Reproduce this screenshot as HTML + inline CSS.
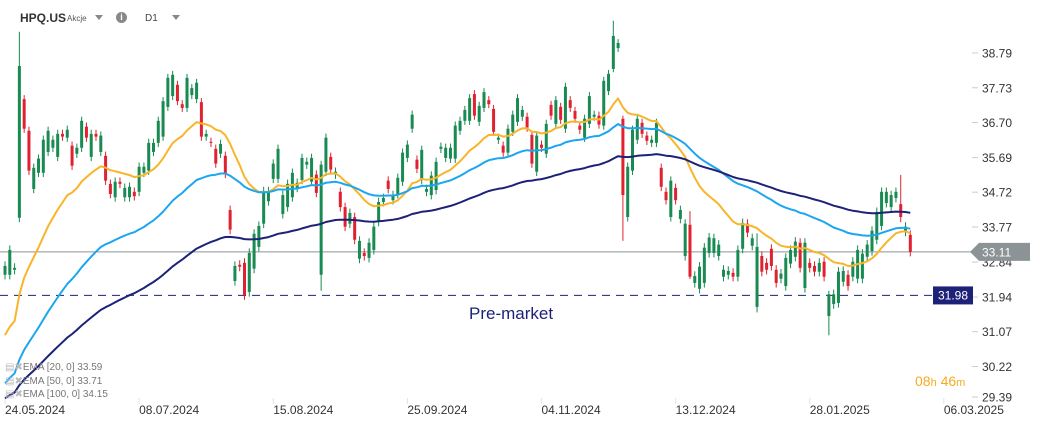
<!DOCTYPE html>
<html><head><meta charset="utf-8">
<style>
html,body{margin:0;padding:0;background:#fff;width:1041px;height:427px;overflow:hidden;font-family:"Liberation Sans",sans-serif;}
#wrap{position:relative;width:1041px;height:427px;}
svg{position:absolute;left:0;top:0;}
</style></head>
<body>
<div id="wrap">
<svg id="chart" width="1041" height="427"></svg>
</div>
<script>
const opens=[32.51,32.51,32.64,34.02,37.39,36.46,34.81,35.26,35.26,35.85,35.97,35.71,36.37,36.26,36.03,35.80,35.97,36.58,35.71,36.37,35.85,35.74,34.95,34.58,35.01,34.58,34.58,34.73,34.73,35.26,35.32,35.85,36.11,36.29,37.16,37.48,37.82,37.24,37.13,37.51,37.39,37.30,36.29,36.14,35.94,35.80,35.74,34.23,32.35,32.77,32.82,32.07,32.67,33.24,33.86,34.47,35.09,35.09,34.12,34.31,34.58,34.84,35.06,35.49,35.01,35.21,32.51,35.29,35.71,35.21,34.73,34.31,33.86,34.04,32.93,33.08,32.95,33.16,33.91,34.45,35.04,34.50,34.67,35.01,35.68,36.52,35.63,35.06,34.73,34.64,34.78,35.94,35.68,35.66,35.66,36.46,36.75,36.75,37.54,36.72,37.13,37.36,37.10,36.20,36.03,35.83,36.43,36.72,36.87,36.87,36.34,35.29,36.06,35.80,37.22,36.66,37.16,36.52,37.36,37.04,36.61,36.26,36.66,36.87,36.90,36.61,37.63,38.30,38.94,36.81,34.04,35.32,36.20,36.69,36.32,36.11,36.11,35.40,34.73,34.04,34.84,33.99,33.00,33.83,32.30,32.15,32.30,33.08,33.08,33.00,32.46,32.51,32.56,32.46,33.19,33.86,33.27,31.69,33.00,32.82,33.19,32.64,32.41,32.22,32.80,32.98,33.35,32.17,32.82,32.74,32.59,32.85,31.46,31.76,31.79,32.33,32.51,32.46,32.41,32.41,32.98,33.13,33.43,33.80,34.42,34.31,34.56,34.39,33.64,33.56];
const closes=[32.74,33.16,32.69,38.39,36.52,35.32,35.40,35.66,36.20,36.46,36.20,36.37,36.29,36.49,35.46,35.97,36.75,36.26,36.37,36.29,36.32,35.04,34.67,35.01,34.95,34.84,34.87,34.61,35.43,35.43,36.11,36.11,36.75,37.33,38.03,38.12,37.33,37.13,38.03,37.72,37.88,36.29,36.37,36.11,35.52,36.08,35.23,33.70,32.74,32.72,31.99,33.08,33.59,33.80,34.75,34.75,35.52,35.94,34.64,34.95,35.26,34.98,35.68,35.57,35.68,34.70,35.49,36.26,35.35,35.29,34.31,33.78,34.15,33.43,33.40,33.00,33.35,33.78,34.45,34.56,34.81,34.64,35.12,35.83,36.06,36.93,35.37,35.91,34.81,35.18,35.57,36.00,35.97,35.97,36.61,36.75,37.07,37.42,36.90,37.19,37.60,37.24,36.43,36.26,35.83,36.52,36.93,37.42,37.07,36.55,35.52,36.32,35.97,36.66,36.90,37.36,36.78,37.76,37.13,36.81,36.49,36.81,37.48,36.93,36.64,37.94,38.15,39.32,39.10,34.64,35.43,36.49,36.81,36.37,36.17,36.20,36.69,34.87,34.50,35.04,34.50,34.23,33.86,32.46,32.48,32.72,33.22,33.49,33.47,33.30,32.64,32.61,32.46,33.16,33.88,33.62,33.47,33.24,32.59,32.64,32.74,32.30,32.54,32.95,33.16,33.38,32.69,33.35,32.69,32.59,32.82,32.46,32.01,32.01,32.59,32.61,32.22,32.85,33.16,33.06,33.30,33.67,34.18,34.73,34.73,34.64,34.73,34.04,33.78,33.11];
const wickIdx=[3,66,127,129,143,157,172,187];
const wickHigh=[39.45,35.60,39.80,36.90,34.20,33.60,32.10,35.20];
const wickLow=[33.90,32.10,38.20,33.40,32.40,31.55,30.98,33.90];
const emaPeriods=[20,50,100];
const emaSeeds=[30.8,29.7,29.4];
const emaColors=['#f9b52a','#1ca6ef','#1d2278'];
const yTicks=[38.79,37.73,36.70,35.69,34.72,33.77,32.84,31.94,31.07,30.22,29.39];
const xLabels=['24.05.2024','08.07.2024','15.08.2024','25.09.2024','04.11.2024','13.12.2024','28.01.2025','06.03.2025'];
const xLabelIdx=[0,28,56,84,112,140,168,196];
const lastPrice=33.11, preMarket=31.98;

const NS='http://www.w3.org/2000/svg';
const svg=document.getElementById('chart');
function mk(tag,attrs,parent){const e=document.createElementNS(NS,tag);for(const k in attrs)e.setAttribute(k,attrs[k]);(parent||svg).appendChild(e);return e;}
const X=i=>5+i*4.79;
const Y=p=>297-(Math.log(p)-Math.log(31.94))*1256;

yTicks.forEach(t=>{
  const y=Math.min(Y(t),397);
  const l=mk('line',{x1:972,x2:978,y1:y,y2:y,stroke:'#ccc'});
  
  
  const tx=mk('text',{x:982,y:y+4.5,'font-size':12,fill:'#333'});
  tx.textContent=t.toFixed(2);
  
  
});
xLabels.forEach((s,k)=>{
  const x=X(xLabelIdx[k]);
  const l=mk('line',{x1:x,x2:x,y1:398,y2:404,stroke:'#e3e3e3'});
  
  
  const tx=mk('text',{x:x,y:414,'font-size':12,fill:'#333'});
  tx.textContent=s;
  
  
});
const pm=mk('line',{x1:0,x2:932,y1:Y(preMarket),y2:Y(preMarket),stroke:'#1d2278','stroke-width':1,'stroke-dasharray':'8,6'});


const lp=mk('line',{x1:0,x2:972,y1:Y(lastPrice),y2:Y(lastPrice),stroke:'#8c9396','stroke-width':1});



for(let i=0;i<closes.length;i++){
  const o=opens[i],c=closes[i];
  const up=c>=o;
  const col=up?'#188a52':'#e0212f';
  let hi=Math.max(o,c)+0.12,lo=Math.min(o,c)-0.12;
  const w=wickIdx.indexOf(i);
  if(w>=0){hi=wickHigh[w];lo=wickLow[w];}
  const x=X(i);
  const wl=mk('line',{x1:x,x2:x,y1:Y(hi),y2:Y(lo),stroke:col,'stroke-width':1});
  
  
  const yt=Y(Math.max(o,c)),yb=Y(Math.min(o,c));
  const b=mk('rect',{x:x-1.5,y:yt,width:3,height:Math.max(1,yb-yt),fill:col});
  
  
}
emaPeriods.forEach((n,k)=>{
  const a=2/(n+1);let e=emaSeeds[k];const pts=[];
  for(let i=0;i<closes.length;i++){e=e+a*(closes[i]-e);pts.push(X(i).toFixed(1)+','+Y(e).toFixed(1));}
  const pl=mk('polyline',{points:pts.join(' '),fill:'none',stroke:emaColors[k],'stroke-width':2,'stroke-linejoin':'round'});
  
  
});
const py=Y(preMarket);
const pb=mk('rect',{x:933,y:py-9,width:40,height:18,fill:'#1d2278'});


const pt=mk('text',{x:953,y:py+4,'font-size':12,fill:'#fff','text-anchor':'middle'});
pt.textContent=preMarket.toFixed(2);


const ly=Y(lastPrice);
const lb=mk('polygon',{points:`970,${ly} 979,${ly-9} 1030,${ly-9} 1030,${ly+9} 979,${ly+9}`,fill:'#8c9396'});


const lt=mk('text',{x:982,y:ly+4.5,'font-size':12,fill:'#fff'});
lt.textContent=lastPrice.toFixed(2);


</script>
<div style="position:absolute;left:20px;top:11px;font-size:12px;font-weight:bold;color:#333">HPQ.US</div>
<div style="position:absolute;left:67px;top:14px;font-size:8px;color:#555">Akcje</div>
<div style="position:absolute;left:95px;top:15px;width:0;height:0;border-left:4px solid transparent;border-right:4px solid transparent;border-top:5px solid #888"></div>
<div style="position:absolute;left:116px;top:12px;width:11px;height:11px;border-radius:50%;background:#888;color:#fff;font-size:9px;font-weight:bold;text-align:center;line-height:11px">i</div>
<div style="position:absolute;left:145px;top:13px;font-size:10px;color:#444">D1</div>
<div style="position:absolute;left:172px;top:15px;width:0;height:0;border-left:4px solid transparent;border-right:4px solid transparent;border-top:5px solid #888"></div>
<div style="position:absolute;left:469px;top:304px;font-size:17px;color:#1d2278">Pre-market</div>
<div style="position:absolute;left:915px;top:373px;font-size:14px;color:#f9a825">08<span style="font-size:11px">h</span> 46<span style="font-size:11px">m</span></div>
<div style="position:absolute;left:5px;top:361px;font-size:10px;color:#777;line-height:13.5px">
<div><span style="color:#bbb">▤✖</span>EMA [20, 0] 33.59</div>
<div><span style="color:#bbb">▤✖</span>EMA [50, 0] 33.71</div>
<div><span style="color:#bbb">▤✖</span>EMA [100, 0] 34.15</div>
</div>
</body></html>
